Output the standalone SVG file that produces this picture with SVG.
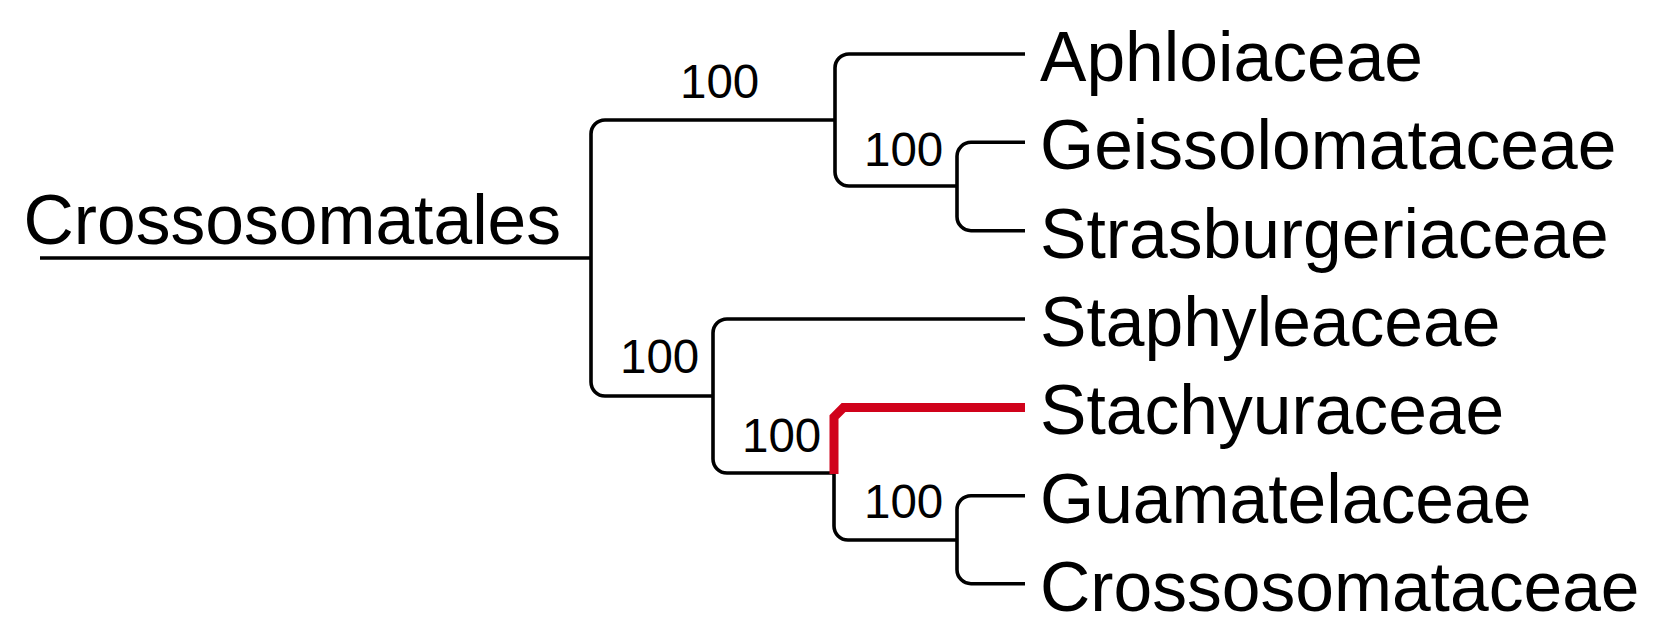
<svg xmlns="http://www.w3.org/2000/svg" width="1666" height="637" viewBox="0 0 1666 637">
<style>
.br{fill:none;stroke:#000;stroke-width:3.6;stroke-linecap:butt;stroke-linejoin:round}
.hl{fill:none;stroke:#d0021b;stroke-width:9;stroke-linejoin:miter;stroke-linecap:butt}
.tx{font-family:"Liberation Sans",Arial,Helvetica,sans-serif;font-size:69.6px;fill:#000}
.bs{font-family:"Liberation Sans",Arial,Helvetica,sans-serif;font-size:47.5px;fill:#000}
</style>
<rect width="1666" height="637" fill="#fff"/>
<g id="connectors">
<path class="br" d="M40,258 H591"/>
<path class="br" d="M835,120 H605 A14,14 0 0 0 591,134 V382 A14,14 0 0 0 605,396 H713"/>
<path class="br" d="M1025,54 H849 A14,14 0 0 0 835,68 V172 A14,14 0 0 0 849,186 H957"/>
<path class="br" d="M1025,142.3 H971 A14,14 0 0 0 957,156.3 V216.7 A14,14 0 0 0 971,230.7 H1025"/>
<path class="br" d="M1025,319 H727 A14,14 0 0 0 713,333 V459 A14,14 0 0 0 727,473 H834"/>
<path class="br" d="M834,473 V526 A14,14 0 0 0 848,540 H957"/>
<path class="br" d="M1025,495.7 H971 A14,14 0 0 0 957,509.7 V569.7 A14,14 0 0 0 971,583.7 H1025"/>
<path class="hl" d="M834,474 V417 L843.5,407.5 H1025"/>
</g>
<g id="root"><text class="tx" x="23.5" y="244">Crossosomatales</text></g>
<g id="aphloiaceae"><text class="tx" x="1040" y="81">Aphloiaceae</text></g>
<g id="geissolomataceae"><text class="tx" x="1040" y="169">Geissolomataceae</text></g>
<g id="strasburgeriaceae"><text class="tx" x="1040" y="257.5">Strasburgeriaceae</text></g>
<g id="staphyleaceae"><text class="tx" x="1040" y="346">Staphyleaceae</text></g>
<g id="stachyuraceae"><text class="tx" x="1040" y="434">Stachyuraceae</text></g>
<g id="guamatelaceae"><text class="tx" x="1040" y="522.5">Guamatelaceae</text></g>
<g id="crossosomataceae"><text class="tx" x="1040" y="610.5">Crossosomataceae</text></g>
<g id="support-1"><text class="bs" x="680" y="98">100</text></g>
<g id="support-2"><text class="bs" x="864" y="166">100</text></g>
<g id="support-3"><text class="bs" x="620" y="373">100</text></g>
<g id="support-4"><text class="bs" x="742" y="452">100</text></g>
<g id="support-5"><text class="bs" x="864" y="518">100</text></g>
</svg>
